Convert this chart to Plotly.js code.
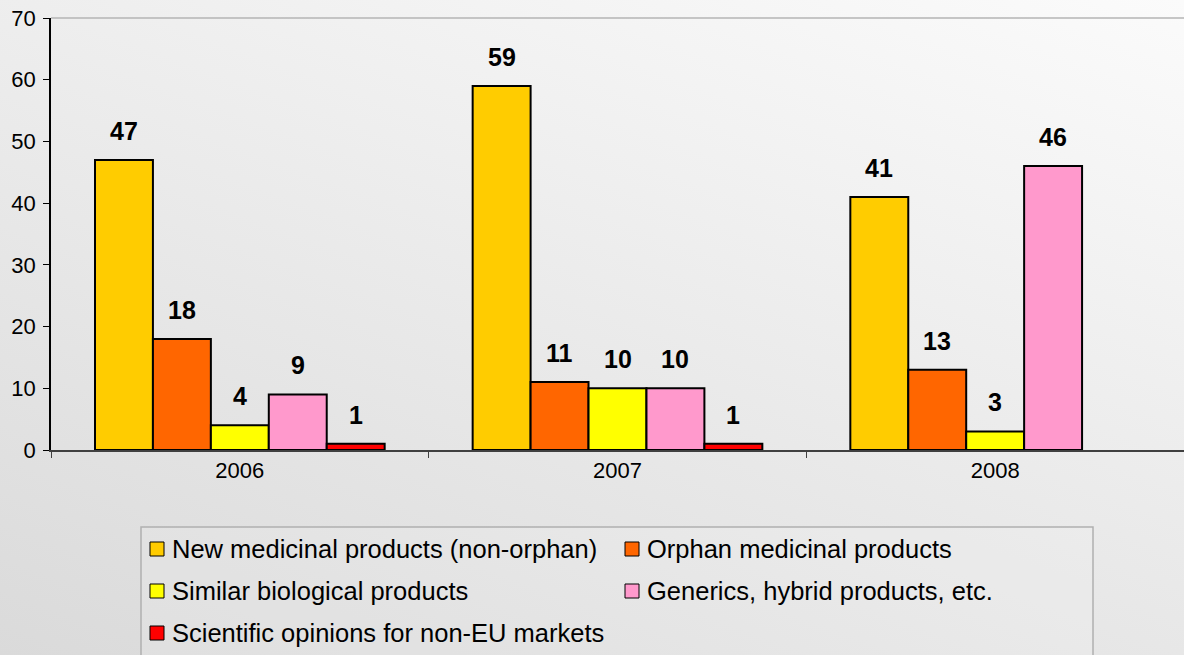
<!DOCTYPE html>
<html>
<head>
<meta charset="utf-8">
<script src="https://cdn.plot.ly/plotly-3.0.1.min.js"></script>
<style>
  html, body { margin: 0; padding: 0; }
  body { width: 1184px; height: 655px; overflow: hidden;
         background: linear-gradient(200deg, #fbfbfb 0%, #ececec 45%, #dadada 100%); }
  #chart { width: 1184px; height: 655px; }
</style>
</head>
<body>
<div id="chart"></div>
<script>
// ---- data ----
const years = ["2006", "2007", "2008"];
const seriesNames = [
  "New medicinal products (non-orphan)",
  "Orphan medicinal products",
  "Similar biological products",
  "Generics, hybrid products, etc.",
  "Scientific opinions for non-EU markets"
];
const newMedicinal = [47, 59, 41];
const orphan = [18, 11, 13];
const similarBio = [4, 10, 3];
const generics = [9, 10, 46];
const nonEU = [1, 1, null];
const seriesColors = ["#FFCC00", "#FF6600", "#FFFF00", "#FF99CC", "#FF0000"];
const yTicks = [0, 10, 20, 30, 40, 50, 60, 70];

const allSeries = [newMedicinal, orphan, similarBio, generics, nonEU];

// ---- layout geometry ----
const W = 1184, H = 655;
const M = { l: 51, r: 0, t: 18, b: 205 };
const plotW = W - M.l - M.r, plotH = H - M.t - M.b;
const px2x = px => (px - M.l) / plotW;
const px2y = py => (H - M.b - py) / plotH;
const bargap = 0.233;
const nS = allSeries.length;
const barW = (1 - bargap) / nS;
const FONT = "Liberation Sans, Arial, sans-serif";

const traces = allSeries.map((vals, k) => ({
  type: "bar",
  name: seriesNames[k],
  x: years,
  y: vals,
  marker: { color: seriesColors[k], line: { color: "#000000", width: 2 } },
  hoverinfo: "x+y+name",
  showlegend: false
}));

const annotations = [];
const shapes = [];

// value labels
allSeries.forEach((vals, k) => {
  vals.forEach((v, i) => {
    if (v === null || v === undefined) return;
    annotations.push({
      xref: "x", yref: "y",
      x: i + (k - (nS - 1) / 2) * barW,
      y: v,
      text: "<b>" + v + "</b>",
      showarrow: false,
      xanchor: "center", yanchor: "bottom",
      yshift: 13,
      font: { family: FONT, size: 25, color: "#000" }
    });
  });
});

// top border line of plot area
shapes.push({
  type: "line", xref: "paper", yref: "paper",
  x0: 0, x1: 1, y0: 1, y1: 1,
  line: { color: "#b4b4b4", width: 1.5 }
});

// legend box
shapes.push({
  type: "rect", xref: "paper", yref: "paper",
  x0: px2x(141), x1: px2x(1093), y0: px2y(527), y1: px2y(665),
  line: { color: "#b0b0b0", width: 1.5 },
  fillcolor: "rgba(255,255,255,0.12)"
});

// legend items (2 columns)
const legCols = [150, 625];
const legRows = [549, 591, 633];
seriesNames.forEach((name, k) => {
  const col = k % 2, row = Math.floor(k / 2);
  const mx = legCols[col], my = legRows[row];
  shapes.push({
    type: "rect", xref: "paper", yref: "paper",
    x0: px2x(mx), x1: px2x(mx + 14), y0: px2y(my - 7), y1: px2y(my + 7),
    fillcolor: seriesColors[k],
    line: { color: "#000", width: 1 }
  });
  annotations.push({
    xref: "paper", yref: "paper",
    x: px2x(mx + 20), y: px2y(my),
    xanchor: "left", yanchor: "middle",
    text: name, showarrow: false,
    font: { family: FONT, size: 25.5, color: "#000" }
  });
});

const layout = {
  width: W, height: H,
  margin: M,
  paper_bgcolor: "rgba(0,0,0,0)",
  plot_bgcolor: "rgba(0,0,0,0)",
  barmode: "group",
  bargap: bargap,
  bargroupgap: 0,
  showlegend: false,
  font: { family: FONT, color: "#000" },
  xaxis: {
    type: "category",
    showgrid: false,
    zeroline: false,
    showline: true, linecolor: "#404040", linewidth: 1.5,
    ticks: "outside", tickson: "boundaries", ticklen: 6, tickcolor: "#404040", tickwidth: 1,
    tickfont: { size: 22, color: "#000" },
    fixedrange: true
  },
  yaxis: {
    range: [0, 70],
    tickvals: yTicks,
    ticktext: yTicks.map(String),
    showgrid: false,
    zeroline: false,
    showline: true, linecolor: "#000", linewidth: 1.5,
    ticks: "outside", ticklen: 6, tickcolor: "#000", tickwidth: 1,
    ticklabelstandoff: 3,
    tickfont: { size: 22, color: "#000" },
    fixedrange: true
  },
  annotations: annotations,
  shapes: shapes
};

Plotly.newPlot("chart", traces, layout, { displayModeBar: false });
</script>
</body>
</html>
